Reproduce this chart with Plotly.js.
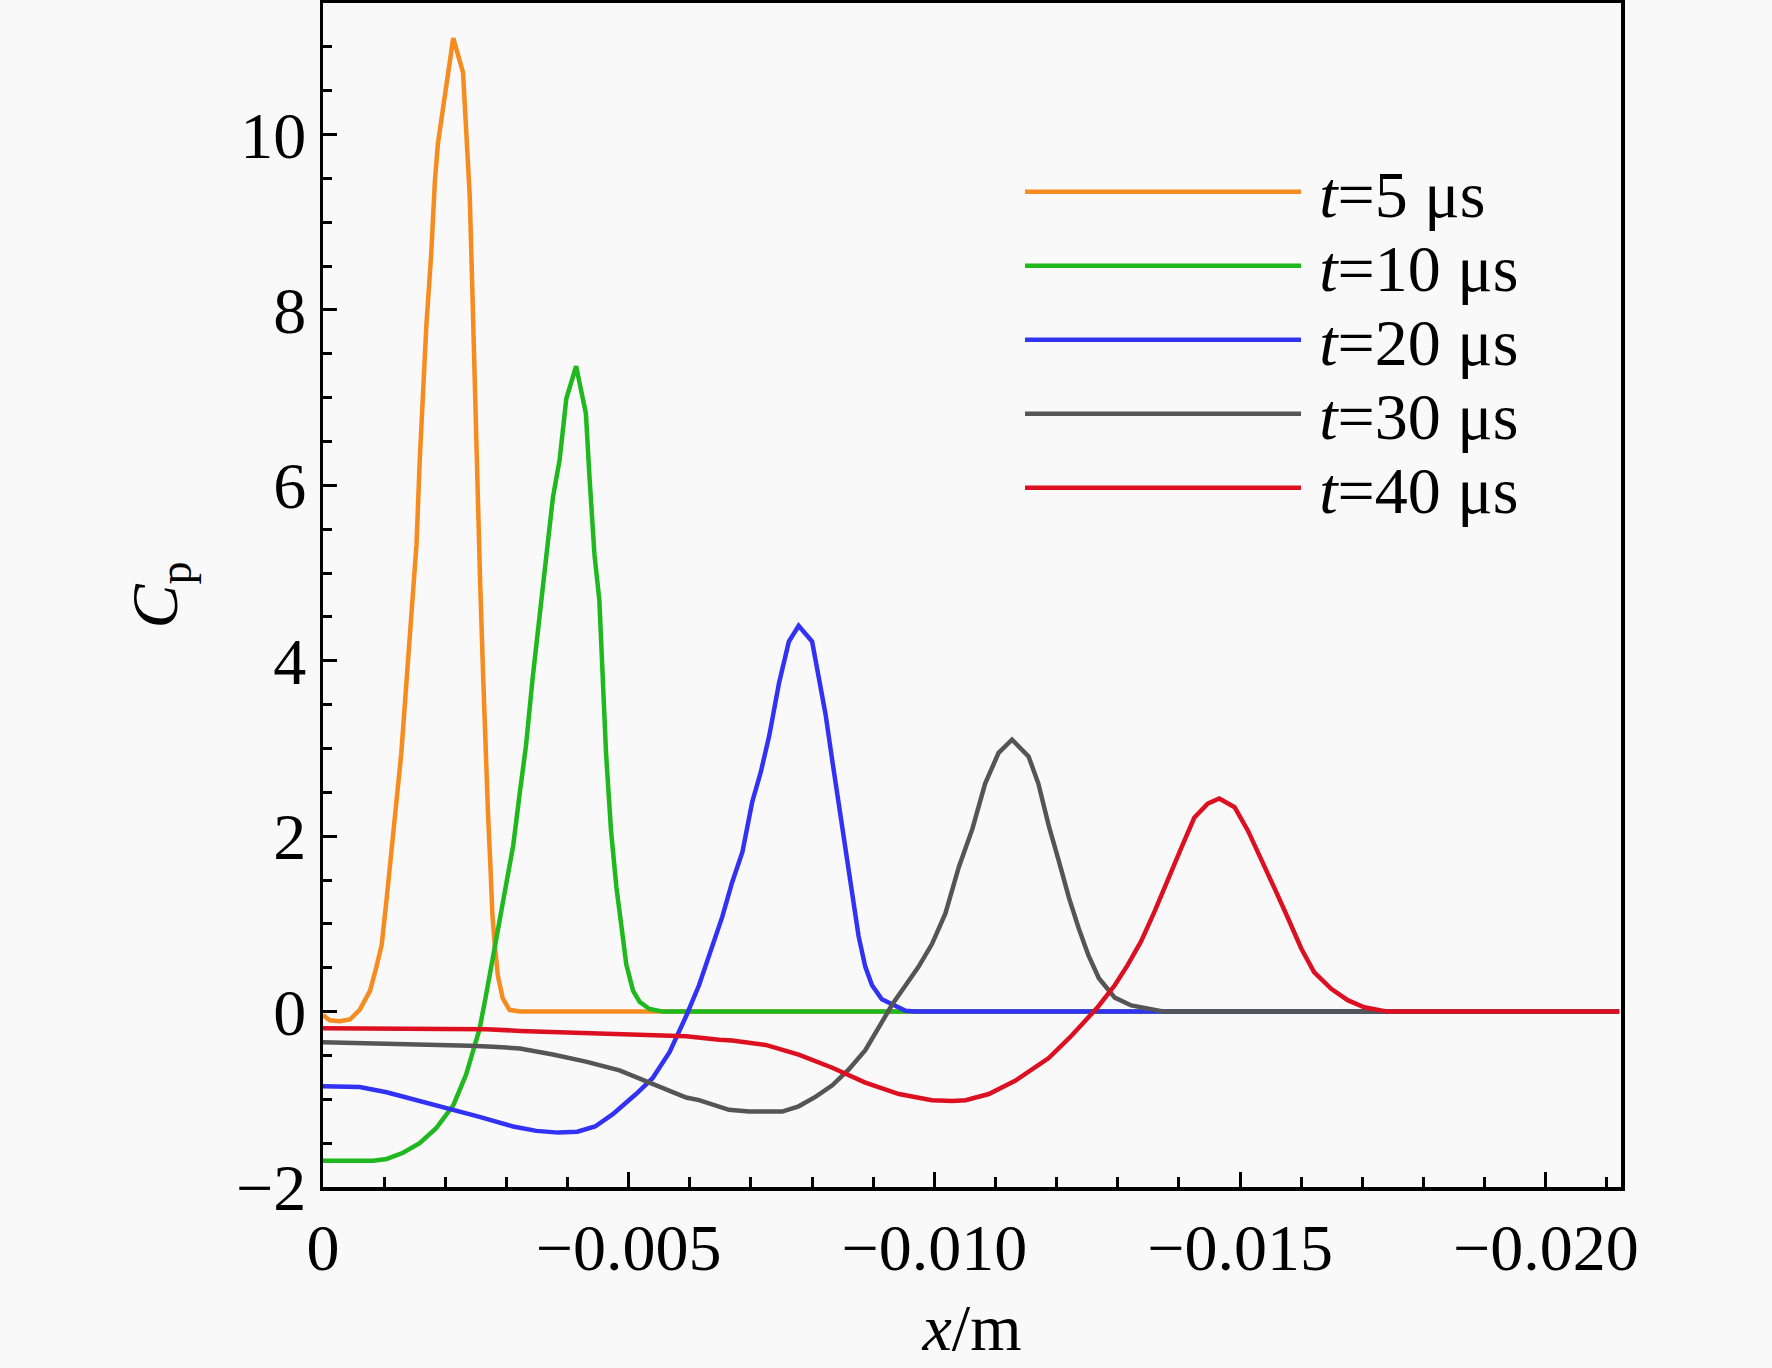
<!DOCTYPE html>
<html>
<head>
<meta charset="utf-8">
<script src="https://cdn.plot.ly/plotly-3.0.1.min.js"></script>
<style>
  html, body { margin: 0; padding: 0; background: #f9f9f9; }
  #chart { width: 1772px; height: 1368px; }
</style>
</head>
<body>
<div id="chart"></div>
<script>
// Cp along x (m) for five time steps
const seriesNames = ['<i>t</i>=5 μs', '<i>t</i>=10 μs', '<i>t</i>=20 μs', '<i>t</i>=30 μs', '<i>t</i>=40 μs'];

const x5 = [0, -0.00011, -0.00027, -0.00044, -0.00060, -0.00077, -0.00087, -0.00096, -0.00104, -0.00112,
  -0.00120, -0.00128, -0.00138, -0.00147, -0.00153, -0.00158, -0.00164, -0.00169, -0.00177, -0.00183,
  -0.00188, -0.00202, -0.00213, -0.00229, -0.00235, -0.00240, -0.00244, -0.00248, -0.00251, -0.00254,
  -0.00257, -0.00262, -0.00266, -0.00270, -0.00274, -0.00277, -0.00281, -0.00286, -0.00294, -0.00305,
  -0.00322, -0.0212];
const cp5 = [-0.04, -0.10, -0.11, -0.09, 0.02, 0.24, 0.50, 0.76, 1.28, 1.85,
  2.29, 2.94, 3.90, 4.70, 5.33, 6.25, 7.12, 7.82, 8.64, 9.47,
  9.90, 10.58, 11.10, 10.71, 9.86, 9.30, 8.30, 7.17, 6.43, 5.69,
  4.90, 3.81, 2.94, 2.24, 1.63, 1.11, 0.76, 0.41, 0.15, 0.02,
  0, 0];

const x10 = [0, -0.00049, -0.00082, -0.00104, -0.00131, -0.00158, -0.00185, -0.00213, -0.00234, -0.00245,
  -0.00256, -0.00267, -0.00278, -0.00289, -0.00300, -0.00311, -0.00322, -0.00332, -0.00343, -0.00357,
  -0.00365, -0.00376, -0.00387, -0.00398, -0.00414, -0.00430, -0.00436, -0.00444, -0.00452, -0.00458,
  -0.00463, -0.00471, -0.00480, -0.00488, -0.00496, -0.00507, -0.00518, -0.00534, -0.00556, -0.0212];
const cp10 = [-1.70, -1.70, -1.70, -1.68, -1.61, -1.50, -1.33, -1.07, -0.72, -0.46,
  -0.20, 0.20, 0.62, 1.05, 1.40, 1.89, 2.50, 3.03, 3.81, 4.69,
  5.25, 5.86, 6.29, 6.99, 7.36, 6.82, 6.08, 5.21, 4.69, 3.81,
  2.94, 2.07, 1.41, 0.98, 0.54, 0.24, 0.11, 0.03, 0, 0];

const x20 = [0, -0.00060, -0.00104, -0.00147, -0.00202, -0.00256, -0.00311, -0.00349, -0.00385, -0.00416,
  -0.00445, -0.00474, -0.00512, -0.00539, -0.00567, -0.00594, -0.00615, -0.00637, -0.00653, -0.00669,
  -0.00686, -0.00702, -0.00716, -0.00730, -0.00746, -0.00762, -0.00778, -0.00800, -0.00811, -0.00822,
  -0.00833, -0.00844, -0.00855, -0.00865, -0.00876, -0.00887, -0.00898, -0.00914, -0.00931, -0.00953,
  -0.00969, -0.0212];
const cp20 = [-0.85, -0.86, -0.92, -1.00, -1.09, -1.20, -1.31, -1.36, -1.38, -1.37,
  -1.31, -1.17, -0.94, -0.76, -0.46, -0.05, 0.30, 0.77, 1.08, 1.47,
  1.82, 2.39, 2.73, 3.15, 3.75, 4.22, 4.40, 4.22, 3.83, 3.39,
  2.86, 2.34, 1.82, 1.30, 0.86, 0.51, 0.30, 0.14, 0.08, 0.01,
  0, 0];

const x30 = [0, -0.00158, -0.00240, -0.00278, -0.00322, -0.00376, -0.00430, -0.00485, -0.00539, -0.00594,
  -0.00615, -0.00648, -0.00664, -0.00697, -0.00751, -0.00778, -0.00806, -0.00833, -0.00860, -0.00887,
  -0.00909, -0.00931, -0.00953, -0.00974, -0.00996, -0.01018, -0.01040, -0.01062, -0.01083, -0.01105,
  -0.01127, -0.01154, -0.01170, -0.01187, -0.01203, -0.01220, -0.01236, -0.01252, -0.01269, -0.01295,
  -0.01322, -0.01349, -0.01376, -0.0212];
const cp30 = [-0.35, -0.37, -0.39, -0.40, -0.42, -0.49, -0.57, -0.67, -0.83, -0.98,
  -1.01, -1.09, -1.12, -1.14, -1.14, -1.08, -0.97, -0.84, -0.66, -0.44,
  -0.18, 0.08, 0.30, 0.51, 0.77, 1.12, 1.65, 2.08, 2.60, 2.95,
  3.10, 2.91, 2.60, 2.12, 1.73, 1.30, 0.95, 0.64, 0.38, 0.16,
  0.07, 0.03, 0, 0];

const x40 = [0, -0.00158, -0.00267, -0.00322, -0.00376, -0.00430, -0.00485, -0.00539, -0.00594, -0.00648,
  -0.00669, -0.00724, -0.00778, -0.00833, -0.00887, -0.00942, -0.00996, -0.01029, -0.01051, -0.01089,
  -0.01132, -0.01187, -0.01225, -0.01267, -0.01295, -0.01316, -0.01338, -0.01360, -0.01382, -0.01404,
  -0.01425, -0.01447, -0.01466, -0.01491, -0.01513, -0.01534, -0.01556, -0.01578, -0.01600, -0.01621,
  -0.01649, -0.01676, -0.01703, -0.01741, -0.0212];
const cp40 = [-0.19, -0.19, -0.20, -0.22, -0.23, -0.24, -0.26, -0.27, -0.28, -0.32,
  -0.33, -0.38, -0.49, -0.64, -0.81, -0.94, -1.01, -1.02, -1.01, -0.94,
  -0.79, -0.53, -0.27, 0.05, 0.30, 0.53, 0.80, 1.14, 1.52, 1.87,
  2.21, 2.37, 2.43, 2.33, 2.06, 1.75, 1.41, 1.07, 0.72, 0.45,
  0.26, 0.13, 0.05, 0, 0];

const xTickVals = [0, -0.005, -0.010, -0.015, -0.020];
const xTickText = ['0', '\u22120.005', '\u22120.010', '\u22120.015', '\u22120.020'];
const yTickVals = [-2, 0, 2, 4, 6, 8, 10];
const yTickText = ['\u22122', '0', '2', '4', '6', '8', '10'];

const xs = [x5, x10, x20, x30, x40];
const ys = [cp5, cp10, cp20, cp30, cp40];
const colors = ['#f68b1f', '#1fb81f', '#3232f5', '#555555', '#dc1020'];

const FONT = 'Liberation Serif, Times New Roman, serif';
const FS = 66;
const legendKeys = ['legend', 'legend2', 'legend3', 'legend4', 'legend5'];

const traces = xs.map((x, i) => ({
  x: x,
  y: ys[i],
  type: 'scatter',
  mode: 'lines',
  name: '\u2009' + seriesNames[i],
  legend: legendKeys[i],
  line: {color: colors[i], width: 4.5}
}));

const layout = {
  width: 1772,
  height: 1368,
  margin: {l: 323, r: 151, t: 3, b: 181, pad: 0},
  paper_bgcolor: '#f9f9f9',
  plot_bgcolor: '#f9f9f9',
  font: {family: FONT, size: FS, color: '#000'},
  showlegend: true,
  xaxis: {
    range: [0, -0.02123],
    tickvals: xTickVals,
    ticktext: xTickText,
    ticks: 'inside',
    ticklen: 15,
    tickwidth: 3,
    tickcolor: '#000',
    showline: true,
    linewidth: 3.5,
    linecolor: '#000',
    mirror: true,
    showgrid: false,
    zeroline: false,
    minor: {dtick: 0.001, tick0: 0, ticks: 'inside', ticklen: 10, tickwidth: 3, tickcolor: '#000', showgrid: false},
    tickfont: {family: FONT, size: FS},
    title: {text: '<i>x</i>/m', font: {family: FONT, size: FS}, standoff: 22}
  },
  yaxis: {
    range: [-2, 11.5],
    tickvals: yTickVals,
    ticktext: yTickText,
    ticks: 'inside',
    ticklen: 14,
    tickwidth: 3,
    tickcolor: '#000',
    showline: true,
    linewidth: 3.5,
    linecolor: '#000',
    mirror: true,
    showgrid: false,
    zeroline: false,
    minor: {dtick: 0.5, tick0: 0, ticks: 'inside', ticklen: 9, tickwidth: 3, tickcolor: '#000', showgrid: false},
    tickfont: {family: FONT, size: FS},
    title: {text: '<i>C</i><sub>p</sub>', font: {family: FONT, size: FS}, standoff: 38}
  }
};

// one single-item legend per row so the rows sit as close as in the figure
legendKeys.forEach((key, i) => {
  layout[key] = {
    x: 0.537,
    xanchor: 'left',
    y: 0.8405 - i * 0.0625,
    yanchor: 'middle',
    bgcolor: 'rgba(0,0,0,0)',
    borderwidth: 0,
    itemwidth: 276,
    font: {family: FONT, size: FS, color: '#000'}
  };
});

Plotly.newPlot('chart', traces, layout, {displayModeBar: false, staticPlot: true});
</script>
</body>
</html>
